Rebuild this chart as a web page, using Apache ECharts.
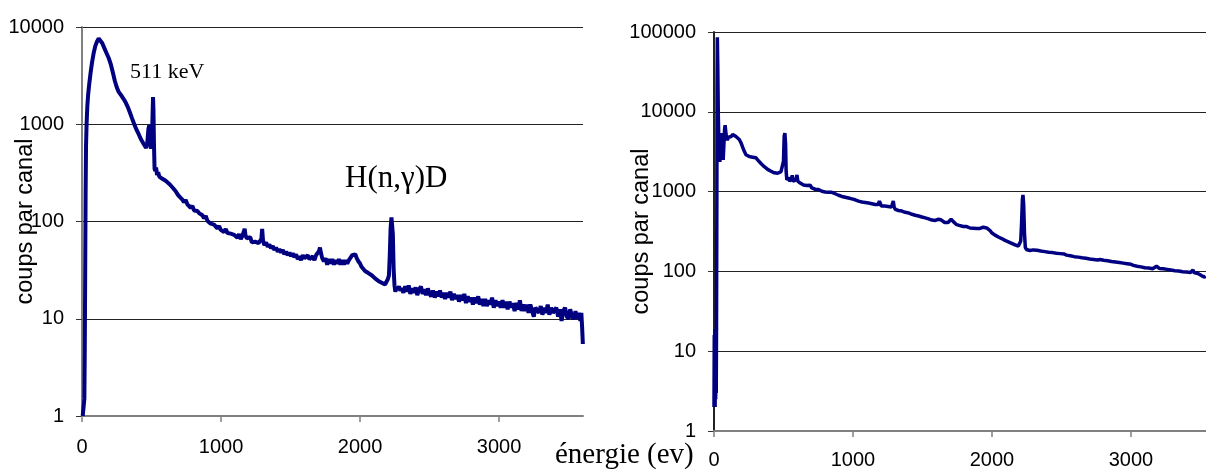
<!DOCTYPE html>
<html>
<head>
<meta charset="utf-8">
<script src="https://cdn.jsdelivr.net/npm/echarts@6/dist/echarts.min.js"></script>
<style>
html,body{margin:0;padding:0;background:#fff;}
#c{width:1206px;height:472px;}
</style>
</head>
<body>
<div id="c"></div>
<script>
// ---- data ----
const xTicks = [0, 1000, 2000, 3000];
const yTitle = 'coups par canal';
const xTitle = 'énergie (ev)';
const peakLabel1 = '511 keV';
const peakLabel2 = 'H(n,γ)D';

const leftEnergy = [5,12,17,20,23,26,29,33,38,44,52,62,72,84,96,108,120,132,146,160,176,192,208,222,236,250,264,280,296,312,328,344,360,376,392,408,424,440,452,462,470,478,484,490,497,503,508,511,514,518,522,527,533,540,548,556,566,578,590,602,614,626,638,650,662,674,686,698,710,
722,734,746,758,770,782,794,806,818,830,842,854,866,878,890,902,914,926,938,950,962,974,986,998,1010,1022,1034,1046,1058,1070,1082,1094,1106,1118,1130,1142,1154,1164,1170,1176,1186,1198,1210,1222,1234,1246,1258,1270,1282,1290,1296,1302,1312,1324,1336,1348,1360,1372,1384,1396,1408,1420,1432,1444,1456,1468,1480,1492,1504,1516,1528,1540,1552,1564,1576,1588,1600,1612,1624,1636,1648,1660,1672,1684,1696,1706,1712,1718,1728,1740,1752,1764,1776,1788,1800,1812,1824,1836,1848,1860,1872,1884,1896,1908,1920,1932,1944,1956,1966,1976,1988,2000,2012,2024,2036,2048,2060,2072,2084,2096,2108,2120,2132,2144,2156,2168,2180,2190,2200,2208,2214,2220,2226,2231,2236,2242,2248,2254,2262,2270,2280,2290,
2300,2312,2325,2338,2350,2362,2375,2388,2400,2412,2425,2438,2450,2462,2475,2488,2500,2512,2525,2538,2550,2562,2575,2588,2600,2612,2625,2638,2650,2662,2675,2688,2700,2712,2725,2738,2750,2762,2775,2788,2800,2812,2825,2838,2850,2862,2875,2888,2900,2912,2925,2938,2950,2962,2975,2988,3000,3012,3025,3038,3050,3062,3075,3088,3100,3112,3125,3138,3150,3162,3175,3188,3200,3212,3225,3238,3250,3262,3275,3288,3300,3312,3325,3338,3350,3362,3375,3388,3400,3412,3425,3438,3450,3462,3475,3488,3500,3512,3525,3538,3550,3562,3575,3585,3592,3598,3603];
const leftCounts = [1,1,1.5,5,30,200,600,1000,1500,2000,2600,3400,4300,5400,6400,7100,7600,7400,6800,6100,5400,4800,4100,3400,2800,2400,2150,2000,1850,1700,1520,1330,1150,1000,880,790,700,640,600,570,650,900,980,640,560,700,1300,1900,1400,600,350,330,360,300,320,290,300,275,285,262,255,245,238,225,215,205,192,182,175,
168,158,166,150,148,138,145,130,130,128,122,120,116,108,114,102,102,95,95,93,92,85,90,82,85,78,84,76,78,75,76,73,74,68,74,66,71,70,84,72,67,64,69,61,61,62,61,60,60,66,84,64,57,61,55,58,53,56,51,54,49,52,48,51,46,49,45,48,44,47,43,46,41,44,40,45,42,41,45,41,40,44,40,45,46,50,54,48,42,39,42,36,41,37,41,36,40,37,41,36,40,36,40,37,40,41,45,47,46,42,39,37,34,33,31,31,29.5,29,28,27,26,25.5,24.5,25,23.5,23,22.5,24,25.5,28,45,85,110,112,75,32,22,19,21,20,21.5,19.5,
20.5,18.5,21.5,19,22,18,20.5,18.5,21,17.5,20,21.5,18,20,17.5,20.5,18,17,19.5,16.5,19,17,19.5,16.5,18.5,16,18.5,16.5,19,15.5,18,16,17.5,15,17.5,15.5,18,14.5,17,15,16.5,14,16.5,14.5,17,14,16,13.5,16,13.5,15.5,14,16.5,13,15.5,13.5,15,13,15.5,13,15,12.5,15,13,14.5,12,14.5,12.5,15.5,12,14,12,14,11.5,14,12,10.5,13,13.5,11.5,13.5,11,13,11.5,14,11,13,11.5,11,13,10.5,12.5,9.5,12,13,10.5,10,12.5,10.5,10,12,10,11.5,9.5,11.5,8,5.5];

const rightEnergy = [0,2,4,6,8,10,12,14,16,18,20,22,24,27,31,36,42,48,54,58,62,66,71,76,80,85,90,96,104,114,124,134,146,158,170,182,194,206,218,230,242,254,266,278,290,302,314,326,338,350,362,374,386,398,410,422,434,446,458,470,482,490,500,505,510,515,519,524,530,537,544,551,558,563,568,576,584,592,597,603,611,620,632,644,656,668,680,692,704,716,728,740,752,764,776,788,800,812,824,836,848,860,872,884,896,908,920,932,944,956,968,980,992,1004,1016,1028,1040,1052,1064,1076,1088,1100,1112,1124,1136,1148,1160,1172,1182,1190,1196,1204,1216,1228,1240,1252,1264,1276,1284,1290,1296,1304,1316,1328,1340,1352,1364,1376,1388,1400,1412,1424,1436,1448,1460,1472,1484,1496,1508,1520,1532,1544,1556,1568,1580,1592,1604,1616,1626,1636,1648,1660,1672,1684,1696,1706,1714,1722,1734,1746,1758,1770,1782,1794,1806,1818,1830,1842,1854,1866,1878,1890,1902,1914,1926,1938,1950,1962,1974,1986,1998,2010,2022,2034,2046,2058,2070,2082,2094,2106,2118,2130,2142,2154,2166,2178,2190,2200,2207,2213,2219,2223,2228,2234,2240,2248,2260,2272,2284,
2296,2310,2324,2338,2352,2366,2380,2394,2408,2422,2436,2450,2464,2478,2492,2506,2520,2536,2550,2564,2578,2592,2606,2620,2634,2648,2662,2676,2690,2704,2718,2732,2746,2760,2777,2790,2804,2818,2832,2846,2860,2874,2888,2902,2916,2930,2944,2958,2972,2986,3000,3017,3030,3044,3058,3072,3086,3100,3114,3128,3142,3156,3170,3184,3194,3204,3218,3232,3246,3260,3274,3288,3302,3316,3330,3344,3358,3372,3386,3400,3414,3428,3440,3446,3454,3468,3482,3496,3510,3520,3530,3538];
const rightCounts = [2,16,2.2,19,2,14,2.5,18,3,20,300,20000,86000,40000,9000,3500,2350,3200,5000,5400,3000,2500,3800,6000,6800,5600,4700,4400,4800,5000,4900,5200,5000,4900,4700,4500,4100,3600,3200,2900,2800,2750,2850,2700,2800,2650,2500,2450,2250,2150,2050,1950,1900,1850,1800,1750,1720,1680,1700,1720,1780,1800,2400,5000,5400,4000,1800,1400,1330,1500,1350,1300,1450,1600,1350,1300,1380,1480,1620,1350,1300,1280,1230,1210,1200,1190,1170,1200,1110,1090,1070,1050,1060,1030,1010,1000,990,1000,980,1010,980,950,940,920,900,880,870,860,850,840,830,820,810,790,790,770,760,755,740,745,730,740,720,715,705,700,690,680,690,760,720,660,650,660,640,650,640,640,700,760,640,600,590,580,590,570,560,550,545,540,530,520,515,505,500,495,485,480,470,468,460,455,450,440,440,435,440,450,460,440,420,410,400,410,430,450,455,420,400,385,380,375,370,365,360,365,355,350,352,348,355,345,350,345,350,358,362,350,335,325,305,295,285,278,270,265,258,252,245,240,235,228,225,220,215,212,208,215,240,400,800,910,700,300,200,188,185,183,182,
186,182,184,178,180,175,177,172,174,170,172,167,169,165,167,162,165,160,162,157,159,153,156,151,153,148,150,146,148,143,146,141,143,139,141,136,138,134,136,131,133,129,131,127,129,125,127,122,125,121,123,119,121,116,118,114,116,111,113,110,112,108,111,116,118,109,106,108,104,106,102,104,100,102,99,101,97,99,96,98,95,97,102,104,97,92,94,90,88,90,85,87];

// ---- chart ----
const pairs = (xs, ys) => xs.map((x, i) => [x, ys[i]]);
const sans = 'Liberation Sans, Arial, sans-serif';
const serif = 'Liberation Serif, Times New Roman, serif';
const navy = '#000080';

function xAxisCfg(gridIndex, max, margin) {
  return {
    type: 'value', gridIndex, min: 0, max,
    axisLine: { show: true, lineStyle: { color: '#808080', width: 2 } },
    axisTick: { show: true, length: 6, customValues: xTicks, lineStyle: { color: '#808080', width: 1.5 } },
    axisLabel: { customValues: xTicks, margin, fontSize: 20, fontFamily: sans, color: '#000',
      formatter: v => String(Math.round(v)) },
    splitLine: { show: false }
  };
}
function yAxisCfg(gridIndex, max, gap, lineColor) {
  return {
    type: 'log', logBase: 10, gridIndex, min: 1, max,
    name: yTitle, nameLocation: 'middle', nameRotate: 90, nameGap: gap, nameMoveOverlap: false,
    nameTextStyle: { fontSize: 23.5, fontFamily: sans, color: '#000' },
    axisLine: { show: true, lineStyle: { color: lineColor, width: 2 } },
    axisTick: { show: true, length: 6, lineStyle: { color: '#333' } },
    axisLabel: { margin: 18, fontSize: 20, fontFamily: sans, color: '#000',
      formatter: v => String(Math.round(v)) },
    splitLine: { show: true, lineStyle: { color: '#222', width: 1 } }
  };
}

const chart = echarts.init(document.getElementById('c'), null, { renderer: 'canvas' });
chart.setOption({
  animation: false,
  backgroundColor: '#fff',
  grid: [
    { left: 82, top: 27, width: 501, height: 389, containLabel: false, outerBoundsMode: 'none' },
    { left: 714, top: 32, width: 492, height: 399, containLabel: false, outerBoundsMode: 'none' }
  ],
  xAxis: [xAxisCfg(0, 3604, 21), xAxisCfg(1, 3540, 19)],
  yAxis: [yAxisCfg(0, 10000, 44, '#808080'), yAxisCfg(1, 100000, 60, '#222')],
  series: [
    { type: 'line', xAxisIndex: 0, yAxisIndex: 0, data: pairs(leftEnergy, leftCounts),
      showSymbol: false, lineStyle: { color: navy, width: 4 }, clip: true },
    { type: 'line', xAxisIndex: 1, yAxisIndex: 1, data: pairs(rightEnergy, rightCounts),
      showSymbol: false, lineStyle: { color: navy, width: 3.5 }, clip: true }
  ],
  graphic: [
    { type: 'text', left: 130, top: 61, style: { text: peakLabel1, font: '22px ' + serif, fill: '#000' } },
    { type: 'text', left: 345, top: 163, style: { text: peakLabel2, font: '31px ' + serif, fill: '#000' } },
    { type: 'text', left: 555, top: 441, style: { text: xTitle, font: '29px ' + serif, fill: '#000' } }
  ]
});
</script>
</body>
</html>
